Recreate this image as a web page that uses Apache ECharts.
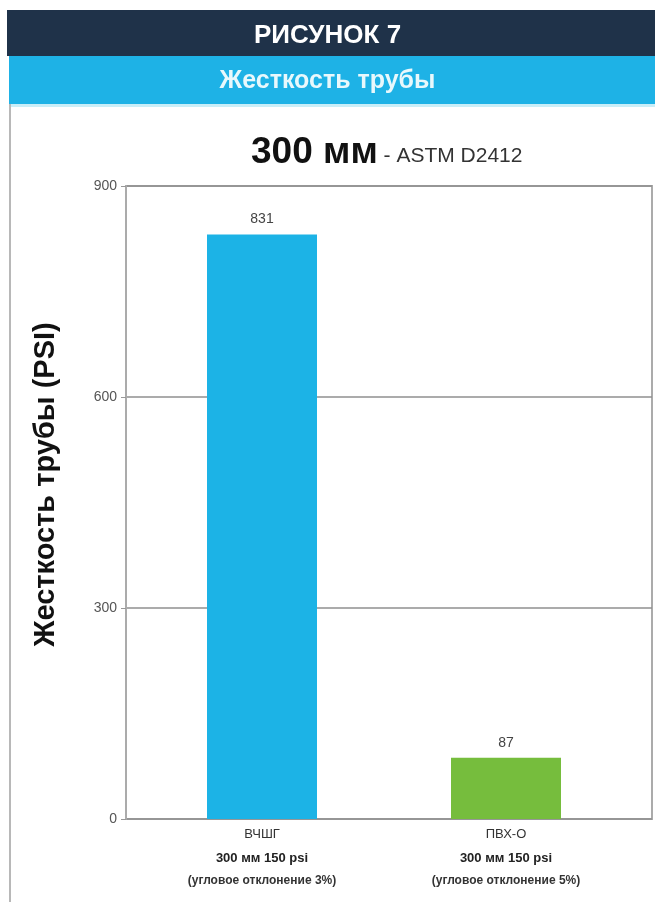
<!DOCTYPE html>
<html>
<head>
<meta charset="utf-8">
<style>
  html, body { margin: 0; padding: 0; background: #ffffff; }
  #chart { width: 655px; height: 902px; }
</style>
<script src="https://cdn.jsdelivr.net/npm/echarts@6/dist/echarts.min.js"></script>
</head>
<body>
<div id="chart"></div>
<script>
// Pipe stiffness, 300 mm pipes per ASTM D2412
const categories = ['ВЧШГ', 'ПВХ-О'];
const pipeSpecs = ['300 мм 150 psi', '300 мм 150 psi'];
const deflections = ['(угловое отклонение 3%)', '(угловое отклонение 5%)'];
const stiffness = [831, 87];
const barColors = ['#1cb3e6', '#76bd3d'];
const yTicks = [0, 300, 600, 900];

const chart = echarts.init(document.getElementById('chart'));

const option = {
  backgroundColor: '#ffffff',
  animation: false,
  graphic: [
    { type: 'rect', shape: { x: 7, y: 10, width: 648, height: 46 }, style: { fill: '#1f3249' }, z: 0 },
    { type: 'rect', shape: { x: 9, y: 56, width: 646, height: 48 }, style: { fill: '#1eb2e6' }, z: 0 },
    { type: 'rect', shape: { x: 9, y: 104, width: 646, height: 3 }, style: { fill: '#c9eef8' }, z: 0 },
    { type: 'line', shape: { x1: 10, y1: 104, x2: 10, y2: 902 }, style: { stroke: '#b8b8b8', lineWidth: 2 }, z: 0 }
  ],
  title: [
    {
      text: 'РИСУНОК 7', left: 'center', top: 18,
      textStyle: { color: '#ffffff', fontFamily: 'Liberation Sans', fontWeight: 'bold', fontSize: 26 }
    },
    {
      text: 'Жесткость трубы', left: 'center', top: 64,
      textStyle: { color: '#e8f8fc', fontFamily: 'Liberation Sans', fontWeight: 'bold', fontSize: 25 }
    },
    {
      text: '{a|300 мм}{b| - ASTM D2412}', left: 246, top: 129,
      textStyle: {
        rich: {
          a: { color: '#111111', fontFamily: 'Liberation Sans', fontWeight: 'bold', fontSize: 37 },
          b: { color: '#333333', fontFamily: 'Liberation Sans Narrow, Liberation Sans', fontWeight: 'normal', fontSize: 21, padding: [8, 0, 0, 0] }
        }
      }
    }
  ],
  grid: [
    { left: 126, right: 3, top: 186, bottom: 83, show: true, borderColor: '#ababab', borderWidth: 2, backgroundColor: 'transparent' },
    { left: 140, right: 27, top: 186, bottom: 83 }
  ],
  xAxis: [
    { type: 'category', gridIndex: 0, data: categories, show: false },
    {
      type: 'category', gridIndex: 1, data: categories,
      axisLine: { show: false }, axisTick: { show: false },
      axisLabel: {
        margin: 3,
        interval: 0,
        formatter: function (value, idx) {
          return '{n|' + value + '}\n{s|' + pipeSpecs[idx] + '}\n{d|' + deflections[idx] + '}';
        },
        rich: {
          n: { fontFamily: 'Liberation Sans Narrow, Liberation Sans', fontSize: 13, color: '#333', lineHeight: 24 },
          s: { fontFamily: 'Liberation Sans Narrow, Liberation Sans', fontWeight: 'bold', fontSize: 13, color: '#222', lineHeight: 24 },
          d: { fontFamily: 'Liberation Sans Narrow, Liberation Sans', fontWeight: 'bold', fontSize: 12, color: '#333', lineHeight: 22 }
        }
      }
    }
  ],
  yAxis: [
    {
      type: 'value', gridIndex: 0, min: yTicks[0], max: yTicks[yTicks.length - 1], interval: 300,
      name: 'Жесткость трубы (PSI)',
      nameLocation: 'middle', nameGap: 66, nameRotate: 90,
      nameTextStyle: { color: '#111111', fontFamily: 'Liberation Sans', fontSize: 29, fontWeight: 'bold', padding: [0, 0, 0, 36] },
      axisLine: { show: true, lineStyle: { color: '#ababab', width: 2 } },
      axisTick: { show: true, length: 5, lineStyle: { color: '#999999' } },
      axisLabel: { color: '#555555', fontFamily: 'Liberation Sans Narrow, Liberation Sans', fontSize: 14, margin: 9 },
      splitLine: { show: true, lineStyle: { color: '#8f8f8f', width: 1.5 } }
    },
    {
      type: 'value', gridIndex: 1, min: yTicks[0], max: yTicks[yTicks.length - 1], interval: 300,
      show: false, splitLine: { show: false }
    }
  ],
  series: [
    {
      type: 'bar', xAxisIndex: 1, yAxisIndex: 1,
      barWidth: 110,
      data: stiffness.map((v, i) => ({ value: v, itemStyle: { color: barColors[i] } })),
      label: {
        show: true, position: 'top', distance: 8,
        color: '#444444', fontFamily: 'Liberation Sans Narrow, Liberation Sans', fontSize: 14
      }
    }
  ]
};

chart.setOption(option);
</script>
</body>
</html>
